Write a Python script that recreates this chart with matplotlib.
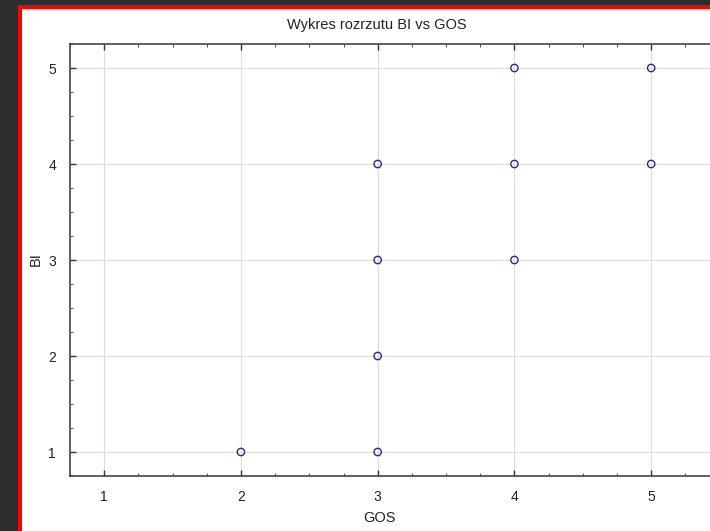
import matplotlib
matplotlib.use("Agg")
import matplotlib.pyplot as plt
from matplotlib.patches import Rectangle
from matplotlib.ticker import MultipleLocator

# GOS vs BI observations
gos = [2, 3, 3, 3, 3, 4, 4, 4, 5, 5]
bi = [1, 1, 2, 3, 4, 3, 4, 5, 4, 5]
x_ticks = [1, 2, 3, 4, 5]
y_ticks = [1, 2, 3, 4, 5]

W, H = 710, 531
fig = plt.figure(figsize=(W / 100, H / 100), dpi=100, facecolor="#2d2d2d")
plt.rcParams["font.family"] = ["Liberation Sans", "DejaVu Sans"]

# red frame with white page inside
fig.patches.append(Rectangle((18 / W, 0), 1, (H - 5) / H, transform=fig.transFigure,
                             facecolor="#ff0000", edgecolor="none", zorder=-2))
fig.patches.append(Rectangle((22 / W, 0), 1, (H - 9) / H, transform=fig.transFigure,
                             facecolor="white", edgecolor="none", zorder=-1))

left, bottom, top = 70 / W, (H - 476) / H, (H - 44) / H
ax = fig.add_axes([left, bottom, 1.05 - left, top - bottom], zorder=1)
ax.set_facecolor("white")

ax.scatter(gos, bi, s=28, facecolors="none", edgecolors="#2a2a8c", linewidths=1.0, zorder=3)

ax.set_xlim(0.75, 0.75 + (W * 1.05 - 70) / 136.75)
ax.set_ylim(0.75, 5.25)
ax.set_xticks(x_ticks)
ax.set_yticks(y_ticks)
ax.xaxis.set_minor_locator(MultipleLocator(0.25))
ax.yaxis.set_minor_locator(MultipleLocator(0.25))
ax.tick_params(which="both", direction="in", top=True, right=False, colors="#333333",
               labelsize=10, labelcolor="#222222")
ax.tick_params(which="major", length=4, width=1)
ax.tick_params(which="minor", length=2, width=0.6)
ax.tick_params(axis="x", pad=10)
ax.tick_params(axis="y", pad=10)
ax.grid(True, which="major", color="#dcdcdc", linewidth=0.8, zorder=0)

for side in ["left", "bottom", "top"]:
    ax.spines[side].set_color("#444444")
    ax.spines[side].set_linewidth(1.2)
ax.spines["right"].set_visible(False)

ax.set_xlabel("GOS", fontsize=10.5, color="#222222")
ax.set_ylabel("BI", fontsize=10.5, color="#222222")
ax.xaxis.set_label_coords(380 / W, (H - 511) / H, transform=fig.transFigure)
ax.yaxis.set_label_coords(43 / W, (H - 259) / H, transform=fig.transFigure)
fig.text(377 / W, (H - 25) / H, "Wykres rozrzutu BI vs GOS", ha="center", va="center",
         fontsize=10.5, color="#222222")

fig.savefig("out.png", dpi=100, facecolor=fig.get_facecolor())
